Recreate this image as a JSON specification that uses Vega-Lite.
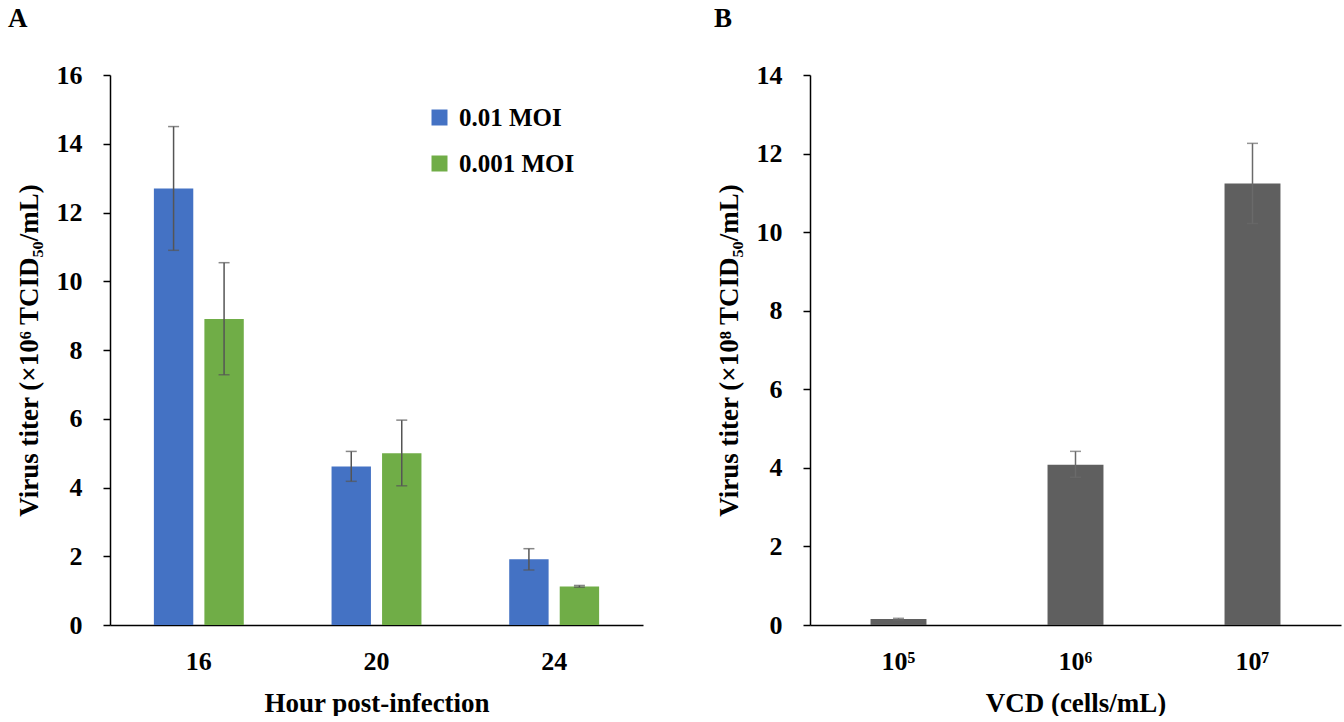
{
  "$schema": "https://vega.github.io/schema/vega-lite/v6.json",
  "background": "white",
  "padding": {"left": 8, "top": 5, "right": 4, "bottom": 0},
  "spacing": 71,
  "config": {
    "font": "Liberation Serif",
    "view": {"stroke": null},
    "axis": {
      "labelFont": "Liberation Serif", "labelFontWeight": "bold", "labelFontSize": 26, "labelColor": "black",
      "titleFont": "Liberation Serif", "titleFontWeight": "bold", "titleFontSize": 27, "titleColor": "black",
      "domainColor": "black", "domainWidth": 1.5, "tickColor": "black", "tickWidth": 1.5, "grid": false
    },
    "title": {"font": "Liberation Serif", "fontWeight": "bold", "fontSize": 27, "color": "black", "anchor": "start", "frame": "group"}
  },
  "datasets": {
    "a": [
      {"hour": "16", "moi": "0.01 MOI", "titer": 12.7, "lo": 10.9, "hi": 14.5},
      {"hour": "16", "moi": "0.001 MOI", "titer": 8.9, "lo": 7.28, "hi": 10.54},
      {"hour": "20", "moi": "0.01 MOI", "titer": 4.61, "lo": 4.18, "hi": 5.05},
      {"hour": "20", "moi": "0.001 MOI", "titer": 5.0, "lo": 4.05, "hi": 5.96},
      {"hour": "24", "moi": "0.01 MOI", "titer": 1.91, "lo": 1.6, "hi": 2.22},
      {"hour": "24", "moi": "0.001 MOI", "titer": 1.12, "lo": 1.1, "hi": 1.15}
    ],
    "b": [
      {"vcd": "10⁵", "titer": 0.15, "lo": 0.13, "hi": 0.17},
      {"vcd": "10⁶", "titer": 4.08, "lo": 3.76, "hi": 4.42},
      {"vcd": "10⁷", "titer": 11.24, "lo": 10.22, "hi": 12.26}
    ]
  },
  "hconcat": [
    {
      "title": {"text": "A", "dx": -102, "offset": 29},
      "width": 533,
      "height": 550,
      "data": {"name": "a"},
      "encoding": {
        "x": {"field": "hour", "type": "nominal", "sort": ["16", "20", "24"],
          "scale": {"paddingInner": 0.494, "paddingOuter": 0.247},
          "axis": {"title": "Hour post-infection", "labelAngle": 0, "ticks": false, "labelPadding": 23, "titlePadding": 16}},
        "xOffset": {"field": "moi", "type": "nominal", "sort": ["0.01 MOI", "0.001 MOI"],
          "scale": {"paddingInner": 0.22, "paddingOuter": 0}}
      },
      "layer": [
        {
          "mark": {"type": "bar"},
          "encoding": {
            "y": {"field": "titer", "type": "quantitative",
              "scale": {"domain": [0, 16], "nice": false},
              "axis": {"title": "Virus titer (×10⁶ TCID₅₀/mL)", "values": [0, 2, 4, 6, 8, 10, 12, 14, 16], "tickSize": 7, "labelPadding": 21, "titlePadding": 13}},
            "color": {"field": "moi", "type": "nominal", "sort": ["0.01 MOI", "0.001 MOI"],
              "scale": {"domain": ["0.01 MOI", "0.001 MOI"], "range": ["#4472C4", "#70AD47"]},
              "legend": {"title": null, "orient": "none", "legendX": 317, "legendY": 30,
                "symbolType": "square", "symbolSize": 256, "symbolStrokeWidth": 0,
                "labelFont": "Liberation Serif", "labelFontWeight": "bold", "labelFontSize": 25, "labelColor": "black",
                "rowPadding": 20, "labelOffset": 7}}
          }
        },
        {
          "mark": {"type": "rule", "color": "#555555", "strokeWidth": 1.5},
          "encoding": {"y": {"field": "lo", "type": "quantitative"}, "y2": {"field": "hi"}}
        },
        {
          "mark": {"type": "tick", "color": "#555555", "size": 11, "thickness": 1.5},
          "encoding": {"y": {"field": "hi", "type": "quantitative"}}
        },
        {
          "mark": {"type": "tick", "color": "#555555", "size": 11, "thickness": 1.5},
          "encoding": {"y": {"field": "lo", "type": "quantitative"}}
        }
      ]
    },
    {
      "title": {"text": "B", "dx": -96, "offset": 29},
      "width": 531,
      "height": 550,
      "data": {"name": "b"},
      "encoding": {
        "x": {"field": "vcd", "type": "nominal", "sort": ["10⁵", "10⁶", "10⁷"],
          "scale": {"paddingInner": 0.684, "paddingOuter": 0.342},
          "axis": {"title": "VCD (cells/mL)", "labelAngle": 0, "ticks": false, "labelPadding": 23, "titlePadding": 16}}
      },
      "layer": [
        {
          "mark": {"type": "bar", "color": "#5F5F5F"},
          "encoding": {
            "y": {"field": "titer", "type": "quantitative",
              "scale": {"domain": [0, 14], "nice": false},
              "axis": {"title": "Virus titer (×10⁸ TCID₅₀/mL)", "values": [0, 2, 4, 6, 8, 10, 12, 14], "tickSize": 7, "labelPadding": 21, "titlePadding": 13}}
          }
        },
        {
          "mark": {"type": "rule", "color": "#6a6a6a", "strokeWidth": 1.5},
          "encoding": {"y": {"field": "lo", "type": "quantitative"}, "y2": {"field": "hi"}}
        },
        {
          "mark": {"type": "tick", "color": "#6a6a6a", "size": 11, "thickness": 1.5},
          "encoding": {"y": {"field": "hi", "type": "quantitative"}}
        },
        {
          "mark": {"type": "tick", "color": "#6a6a6a", "size": 11, "thickness": 1.5},
          "encoding": {"y": {"field": "lo", "type": "quantitative"}}
        }
      ]
    }
  ]
}
